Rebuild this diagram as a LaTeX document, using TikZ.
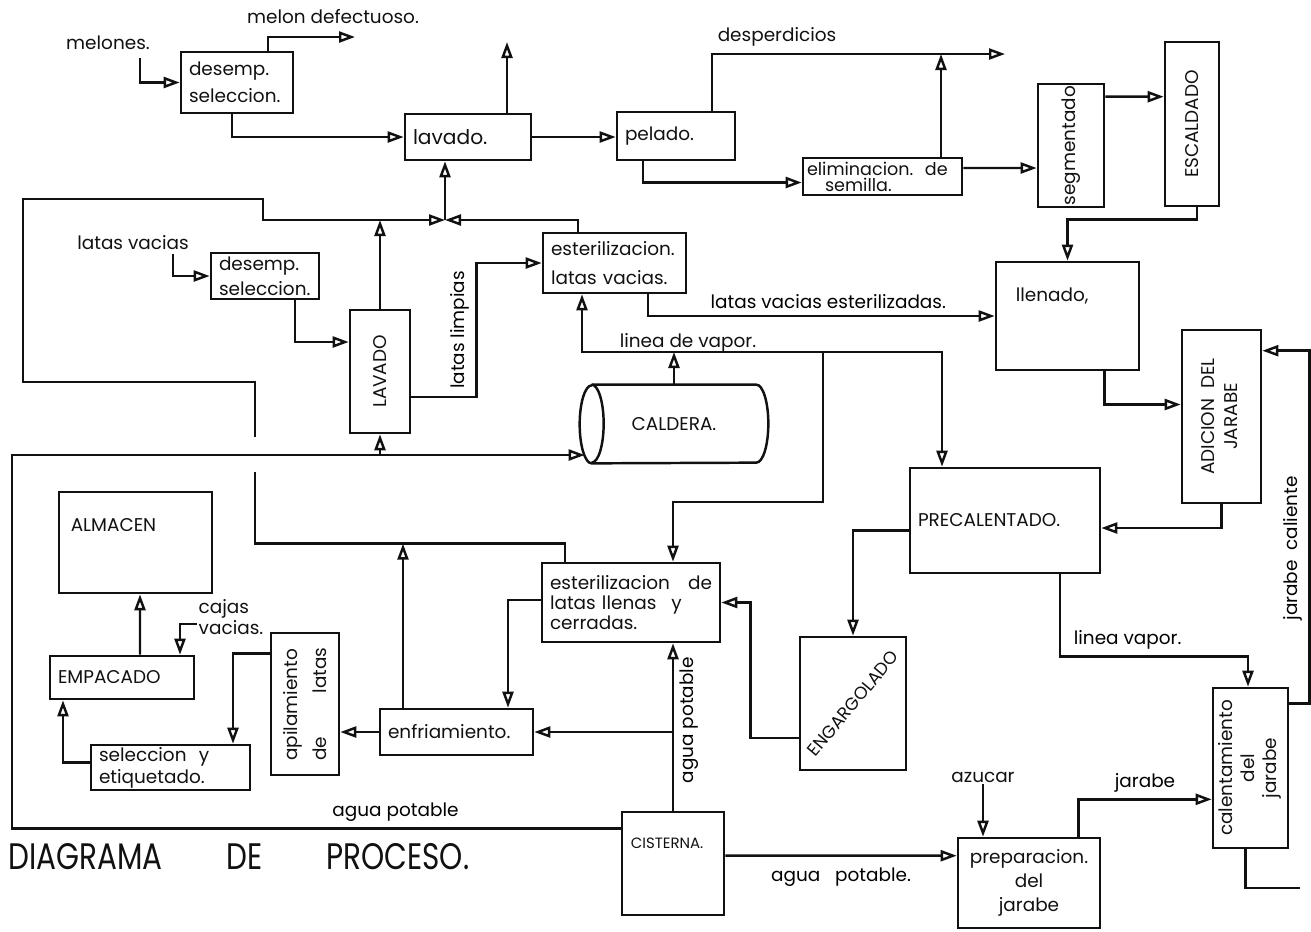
\documentclass[tikz,border=0pt]{standalone}
\usepackage{fontspec}
\setmainfont{Poppins}
\usepackage{graphicx}
\usetikzlibrary{positioning,arrows.meta,calc}
\definecolor{dptinta}{HTML}{111111}
\tikzset{
  dpcaja/.style={draw=dptinta, line width=1.5pt, inner xsep=0.16cm, inner ysep=0pt, align=left, text=dptinta},
  dpcentro/.style={draw=dptinta, line width=1.5pt, inner sep=0pt, align=center, text=dptinta},
  dplinea/.style={draw=dptinta, line width=1.4pt},
  dpflecha/.style={dplinea, -{Triangle[open, length=3.2mm, width=2.2mm]}},
  dprotulo/.style={inner sep=1pt, align=left, text=dptinta},
  dptitulo/.style={font=\fontsize{21}{24}\selectfont, text=dptinta, inner sep=0pt},
}
\hyphenpenalty=10000
\exhyphenpenalty=10000

\begin{document}
\begin{tikzpicture}[x=0.02cm, y=-0.02cm, font=\fontsize{10.5}{13}\selectfont]
    \useasboundingbox (0,0) rectangle (1311,931);
    % ---------------- puntos de union ----------------
    \coordinate (defect) at (355,37);
    \coordinate (vaporlav) at (507,42);
    \coordinate (desp) at (1005,54);
    \coordinate (despjoin) at (941,54);
    \coordinate (retorno) at (445,220);
    \coordinate (vapor) at (674,352);
    \coordinate (vapor2) at (823,352);
    \coordinate (cruce1) at (255,472);
    \coordinate (cruce2) at (255,437);
    \coordinate (esquina) at (12,455);
    \coordinate (salida) at (1300,888);
    % ---------------- linea del melon ----------------
    \node[dprotulo] (melones) at (108,43) {melones.};
    \node[dprotulo] (defectuoso) at (333,17) {melon defectuoso.};
    \node[dpcaja, text width=1.92cm, minimum height=1.22cm, font=\fontsize{10.5}{15.4}\selectfont] (desA) at (237,82.5) {desemp.\\seleccion.};
    \node[dpcaja, text width=2.20cm, minimum height=0.92cm, font=\fontsize{11.5}{13}\selectfont] (lavado) at (468,137) {lavado.};
    \node[dpcaja, text width=2.04cm, minimum height=0.96cm] (pelado) at (676,136) {pelado.};
    \node[dprotulo] (desperdicios) at (777,37) {desperdicios};
    \node[dpcaja, inner xsep=0.08cm, text width=3.02cm, minimum height=0.74cm, font=\fontsize{10}{9}\selectfont] (elim) at (882.5,176.5) {eliminacion.~~de\\\hspace*{0.36cm}semilla.};
    \node[dpcentro, minimum width=1.32cm, minimum height=2.46cm] (seg) at (1071,145.5) {\rotatebox{90}{segmentado}};
    \node[dpcentro, minimum width=1.08cm, minimum height=3.28cm] (esc) at (1192,124) {\rotatebox{90}{ESCALDADO}};
    \node[dpcentro, minimum width=2.86cm, minimum height=2.16cm] (llenado) at (1067.5,316) {};
    \node[dprotulo, anchor=west] (llenadotxt) at ($(llenado.north west)+(19,35)$) {llenado,};
    % ---------------- linea de latas ----------------
    \node[dprotulo] (latasvacias) at (133,243) {latas vacias};
    \node[dpcaja, text width=1.84cm, minimum height=0.92cm, font=\fontsize{10.5}{14.2}\selectfont] (desB) at (265,276) {desemp.\\seleccion.};
    \node[dpcentro, minimum width=1.2cm, minimum height=2.46cm] (LAV) at (380,371.5) {\rotatebox{90}{LAVADO}};
    \node[dpcaja, text width=2.54cm, minimum height=1.2cm, font=\fontsize{10.5}{16}\selectfont] (estV) at (614.5,263) {esterilizacion.\\latas vacias.};
    % ---------------- caldera ----------------
    \node[inner sep=0pt, minimum width=3.76cm, minimum height=1.56cm, text=dptinta] (caldera) at (674,424) {CALDERA.};
    \draw[dplinea] ($(caldera.north west)+(12,0)$) -- ($(caldera.north east)+(-12,0)$)
        arc[start angle=90, end angle=-90, x radius=0.24cm, y radius=0.78cm]
        -- ($(caldera.south west)+(12,0)$)
        arc[start angle=270, end angle=90, x radius=0.24cm, y radius=0.78cm];
    \draw[dplinea] ($(caldera.north west)+(12,0)$) arc[start angle=90, end angle=-90, x radius=0.24cm, y radius=0.78cm];
    \node[dprotulo] (lineavapor) at (688,343) {linea de vapor.};
    % ---------------- jarabe y precalentado ----------------
    \node[dpcentro, minimum width=1.58cm, minimum height=3.46cm] (adicion) at (1221.5,416.5) {\rotatebox{90}{\begin{tabular}{@{}c@{}}ADICION~~DEL\\JARABE\end{tabular}}};
    \node[dpcaja, text width=3.48cm, minimum height=2.1cm] (precal) at (1005,520.5) {PRECALENTADO.};
    \node[dpcentro, minimum width=2.12cm, minimum height=2.66cm, font=\fontsize{10}{12}\selectfont] (engarg) at (853,703.5) {\rotatebox{50}{ENGARGOLADO}};
    \node[dpcaja, text width=3.24cm, minimum height=1.58cm, font=\fontsize{10.5}{11.6}\selectfont] (estL) at (631,602.5) {esterilizacion\hfill de\\latas llenas\hspace{0.3cm}y\\cerradas.};
    % ---------------- salida del producto ----------------
    \node[dpcaja, text width=2.74cm, minimum height=0.92cm] (enfr) at (456.5,732) {enfriamiento.};
    \node[dpcentro, minimum width=1.36cm, minimum height=2.84cm, font=\fontsize{10.5}{17}\selectfont] (apil) at (305,704) {\rotatebox{90}{\parbox{2.26cm}{apilamiento\\de\hfill latas}}};
    \node[dpcaja, text width=2.86cm, minimum height=0.9cm, font=\fontsize{10.5}{12.5}\selectfont] (selec) at (170.5,767.5) {seleccion~~y\\etiquetado.};
    \node[dpcaja, text width=2.56cm, minimum height=0.86cm] (empac) at (122,677.5) {EMPACADO};
    \node[dpcentro, minimum width=3.06cm, minimum height=2.02cm] (almacen) at (135.5,542.5) {};
    \node[dprotulo, anchor=west] (almacentxt) at ($(almacen.north west)+(11,34)$) {ALMACEN};
    \node[dprotulo, font=\fontsize{10.5}{8.5}\selectfont] (cajas) at (231,617) {cajas\\vacias.};
    % ---------------- agua y jarabe ----------------
    \node[dpcentro, minimum width=2.04cm, minimum height=2.06cm] (cisterna) at (673,863.5) {};
    \node[dprotulo, anchor=west, font=\fontsize{8.5}{10}\selectfont] (cisternatxt) at ($(cisterna.north west)+(8,33)$) {CISTERNA.};
    \node[dprotulo] (azucar) at (983,777) {azucar};
    \node[dpcentro, minimum width=2.84cm, minimum height=1.8cm, font=\fontsize{10.5}{13.7}\selectfont] (prep) at (1029,883) {preparacion.\\del\\jarabe};
    \node[dpcentro, minimum width=1.5cm, minimum height=3.2cm, font=\fontsize{10.5}{12.5}\selectfont] (calent) at (1250.5,768) {\rotatebox{90}{\begin{tabular}{@{}c@{}}calentamiento\\del\\jarabe\end{tabular}}};
    % ---------------- titulo ----------------
    \node[dptitulo, anchor=west] (titulo) at (8,857) {\scalebox{0.8}[1]{DIAGRAMA\hspace{1.6cm}DE\hspace{1.6cm}PROCESO.}};
    % ---------------- flechas: melon ----------------
    \draw[dpflecha] ($(melones.south east)+(-12,6)$) |- (desA.west);
    \draw[dpflecha] ($(desA.north)+(31,0)$) |- (defect);
    \draw[dpflecha] ($(desA.south)+(-5,0)$) |- (lavado.west);
    \draw[dpflecha] (lavado.north -| vaporlav) -- (vaporlav);
    \draw[dpflecha] (lavado.east) -- (lavado.east -| pelado.west);
    \draw[dpflecha] ($(pelado.north)+(36,0)$) |- (desp);
    \draw[dpflecha] ($(pelado.south)+(-33,0)$) |- ($(elim.west)+(0,6)$);
    \draw[dpflecha] (elim.north -| despjoin) -- (despjoin);
    \draw[dpflecha] ($(elim.east)+(0,-8.5)$) -- ($(seg.west)+(0,22.5)$);
    \draw[dpflecha] ($(seg.north east)+(0,14)$) -- ($(esc.north west)+(0,56)$);
    \draw[dpflecha] ($(esc.south)+(5,0)$) -- ++(0,12) -| (llenado.north);
    % ---------------- flechas: agua de lavado ----------------
    \draw[dplinea] ($(estL.north)+(-66,0)$) -- ++(0,-18) -| (cruce1);
    \draw[dpflecha] (cruce2) |- (23,382) |- (263,199) |- (retorno);
    \draw[dpflecha] ($(enfr.north)+(-53.5,0)$) -- ++(0,-164);
    \draw[dpflecha] ($(estV.north)+(-36.5,0)$) |- (retorno);
    \draw[dpflecha] (retorno) -- (retorno |- lavado.south);
    \draw[dpflecha] (LAV.north) -- (LAV.north |- retorno);
    % ---------------- flechas: latas ----------------
    \draw[dpflecha] ($(latasvacias.south east)+(-18,2)$) |- (desB.west);
    \draw[dpflecha] ($(desB.south)+(30,0)$) |- ($(LAV.west)+(0,-29.5)$);
    \draw[dpflecha] ($(LAV.east)+(0,25.5)$) -- ++(65,0) |- node[pos=0.25, sloped, above] {latas limpias} (estV.west);
    \draw[dpflecha] ($(estV.south)+(33.5,0)$) |- node[pos=0.76, above] {latas vacias esterilizadas.} (llenado.west);
    % ---------------- flechas: vapor ----------------
    \draw[dpflecha] (caldera.north) -- (vapor);
    \draw[dpflecha] (vapor) -| ($(estV.south)+(-32.5,0)$);
    \draw[dpflecha] (vapor) -| ($(precal.north)+(-63,0)$);
    \draw[dpflecha] (vapor2) -- ++(0,150) -| ($(estL.north)+(42,0)$);
    % ---------------- flechas: agua potable ----------------
    \draw[dpflecha] ($(cisterna.north west)+(0,18)$) -| node[pos=0.185, above] {agua potable} (esquina) -- ($(caldera.west)+(5,31)$);
    \draw[dpflecha] (LAV.south |- esquina) -- (LAV.south);
    \draw[dpflecha] (cisterna.north) -- node[pos=0.54, sloped, below] {agua potable} (cisterna.north |- estL.south);
    \draw[dpflecha] (enfr.east -| cisterna.north) -- (enfr.east);
    \draw[dpflecha] ($(cisterna.north east)+(0,45)$) -- node[midway, below=3pt] {agua~~~potable.} ($(prep.north west)+(0,19)$);
    % ---------------- flechas: jarabe ----------------
    \draw[dpflecha] (azucar.south) -- (azucar.south |- prep.north);
    \draw[dpflecha] ($(prep.north east)+(-23,0)$) |- node[pos=0.75, above] {jarabe} ($(calent.south west)+(0,-50)$);
    \draw[dplinea] ($(calent.south)+(-5,0)$) |- (salida);
    \draw[dpflecha] ($(calent.north east)+(0,17)$) -- ++(20,0) |- node[pos=0.22, sloped, above] {jarabe~~caliente} ($(adicion.north east)+(0,22)$);
    \draw[dpflecha] ($(llenado.south)+(37,0)$) |- ($(adicion.west)+(0,-12)$);
    \draw[dpflecha] (adicion.south) |- ($(precal.east)+(0,7.5)$);
    \draw[dpflecha] ($(precal.south)+(55,0)$) -- ++(0,82) -| node[pos=0.18, above] {linea vapor.} ($(calent.north)+(-2.5,0)$);
    % ---------------- flechas: cierre y empaque ----------------
    \draw[dpflecha] ($(precal.west)+(0,10)$) -| (engarg.north);
    \draw[dpflecha] ($(engarg.west)+(0,34.5)$) -- ++(-48,0) |- (estL.east);
    \draw[dpflecha] ($(estL.west)+(0,-2.5)$) -| ($(enfr.north)+(51.5,0)$);
    \draw[dpflecha] (enfr.west) -- (enfr.west -| apil.east);
    \draw[dpflecha] ($(apil.north west)+(0,22)$) -| ($(selec.north)+(62.5,0)$);
    \draw[dpflecha] ($(selec.west)+(0,-5)$) -| ($(empac.south)+(-59,0)$);
    \draw[dpflecha] ($(empac.north)+(18,0)$) -- ($(almacen.south)+(4.5,0)$);
    \draw[dpflecha] ($(cajas.west)+(0,7)$) -| ($(empac.north)+(58,0)$);
\end{tikzpicture}
\end{document}
